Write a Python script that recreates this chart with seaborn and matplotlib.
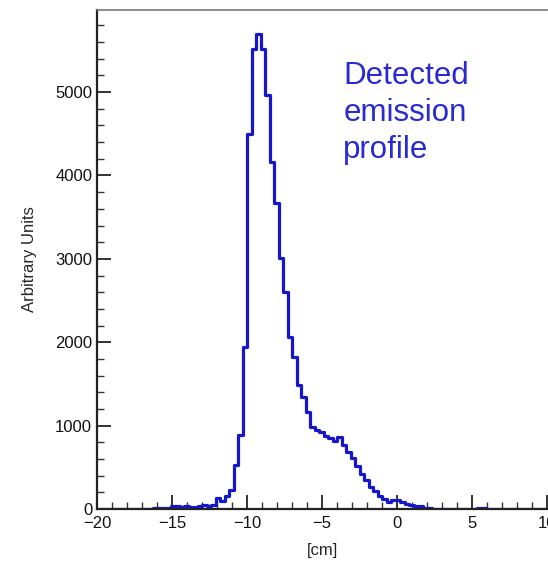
import numpy as np
import seaborn as sns
import matplotlib.pyplot as plt
from matplotlib.ticker import MultipleLocator

# histogram binning (0.3 cm bins)
bin_start = -20.2
bin_width = 0.3

# counts per bin
counts = [
    5, 5, 5, 5, 5, 5, 5, 5, 5, 5,
    5, 5, 5, 8, 8, 10, 15, 35, 30, 25,
    30, 25, 25, 40, 45, 40, 45, 130, 100, 150,
    230, 530, 890, 1945, 4500, 5520, 5700, 5520, 4960, 4160,
    3670, 3010, 2600, 2065, 1825, 1485, 1345, 1165, 980, 945,
    920, 875, 850, 815, 860, 765, 680, 610, 515, 420,
    345, 265, 215, 155, 120, 85, 110, 110, 85, 60,
    50, 35, 30, 15, 10, 5, 5, 5, 5, 5,
    5, 5, 5, 5, 5, 8, 8, 5, 5, 5,
    5, 5, 5, 5, 5, 5, 5, 5, 5, 5,
    5,
]
centers = bin_start + bin_width * (np.arange(len(counts)) + 0.5)

sns.set_style('ticks')
plt.rcParams['font.family'] = ['Liberation Sans', 'DejaVu Sans']

fig = plt.figure(figsize=(5.48, 5.63), dpi=100)
ax = fig.add_axes([97 / 548, 54 / 563, 450 / 548, 499 / 563])

sns.histplot(x=centers, weights=counts, binwidth=bin_width,
             binrange=(bin_start, bin_start + bin_width * len(counts)),
             element='step', fill=False, color='#1616cc', linewidth=2.3, ax=ax)

ax.set_xlim(-20, 10)
ax.set_ylim(0, 5985)
ax.xaxis.set_major_locator(MultipleLocator(5))
ax.xaxis.set_minor_locator(MultipleLocator(1))
ax.yaxis.set_major_locator(MultipleLocator(1000))
ax.yaxis.set_minor_locator(MultipleLocator(200))
ax.tick_params(which='major', direction='in', length=10, width=1.2,
               labelsize=12, colors='#111111')
ax.tick_params(which='minor', direction='in', length=5, width=1.0,
               colors='#333333')
ax.tick_params(axis='x', pad=5)

for side in ['left', 'bottom']:
    ax.spines[side].set_linewidth(1.6)
    ax.spines[side].set_color('#222222')
ax.spines['top'].set_color('#777777')
ax.spines['top'].set_linewidth(1.2)
ax.spines['right'].set_visible(False)

ax.set_xlabel('[cm]', fontsize=12, labelpad=9)
ax.set_ylabel('Arbitrary Units', fontsize=12, labelpad=13)

ax.text(0.547, 0.897, 'Detected\nemission\nprofile', transform=ax.transAxes,
        ha='left', va='top', fontsize=22.5, color='#2a2ad2', linespacing=1.3)

fig.savefig('out.png', dpi=100)
